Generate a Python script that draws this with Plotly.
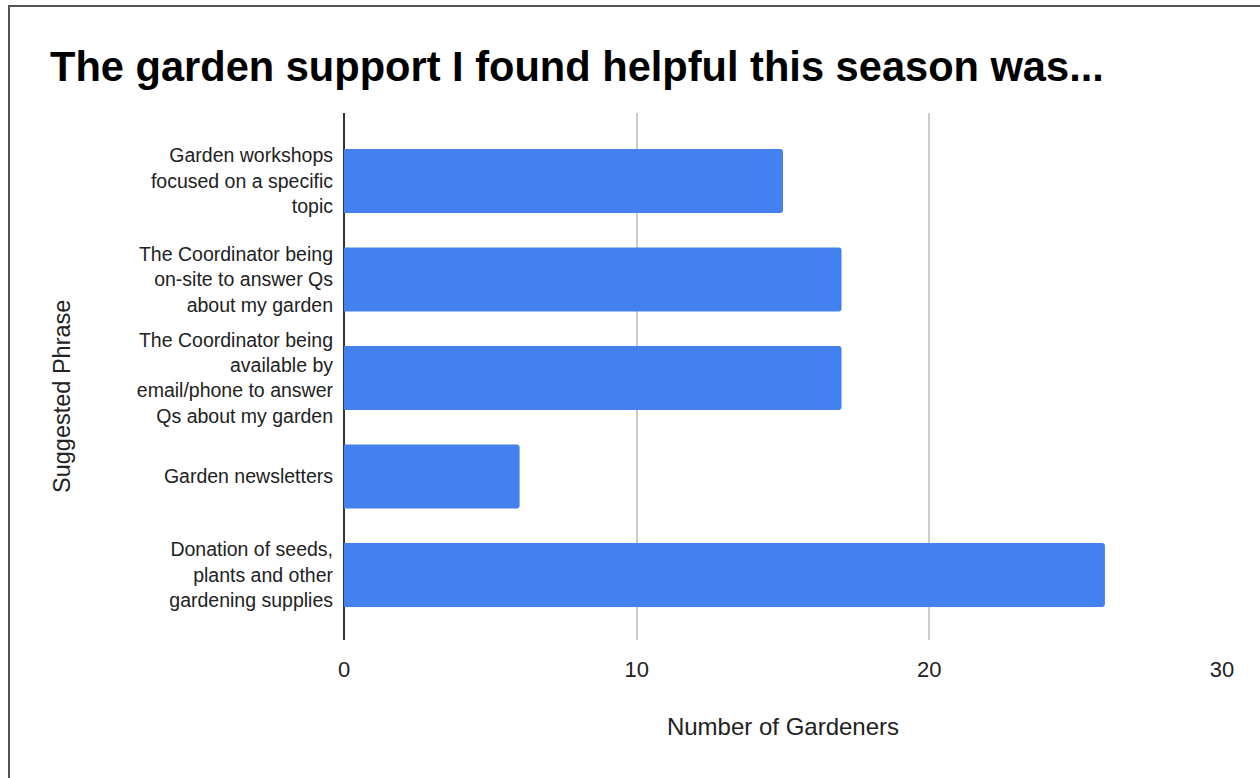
import plotly.graph_objects as go

categories = [
    "Garden workshops<br>focused on a specific<br>topic",
    "The Coordinator being<br>on-site to answer Qs<br>about my garden",
    "The Coordinator being<br>available by<br>email/phone to answer<br>Qs about my garden",
    "Garden newsletters",
    "Donation of seeds,<br>plants and other<br>gardening supplies",
]
values = [15, 17, 17, 6, 26]
x_ticks = [0, 10, 20, 30]

FONT = "Arial, 'Liberation Sans', sans-serif"

fig = go.Figure(
    go.Bar(
        x=values,
        y=list(range(len(categories))),
        orientation="h",
        marker=dict(color="#4382ee", line=dict(width=0)),
        width=0.65,
    )
)

W, H = 1260, 778
L, R, T, B = 344, 38, 113, 138
pw, ph = W - L - R, H - T - B

fig.update_layout(
    width=W,
    height=H,
    margin=dict(l=L, r=R, t=T, b=B),
    paper_bgcolor="white",
    plot_bgcolor="white",
    barcornerradius=3,
    showlegend=False,
    title=dict(
        text="<b>The garden support I found helpful this season was...</b>",
        x=50 / W,
        xanchor="left",
        y=1 - 66 / H,
        yanchor="middle",
        font=dict(family=FONT, size=41.6, color="#000000"),
    ),
    font=dict(family=FONT, color="#222222"),
    xaxis=dict(
        range=[0, 30],
        tickvals=x_ticks,
        ticktext=[str(v) for v in x_ticks],
        showgrid=True,
        gridcolor="#cccccc",
        gridwidth=1.5,
        zeroline=True,
        zerolinecolor="#333333",
        zerolinewidth=1.5,
        showline=False,
        ticks="",
        ticklabelstandoff=14,
        tickfont=dict(size=22, color="#222222"),
        title=dict(text="Number of Gardeners", font=dict(size=24, color="#222222"), standoff=37),
        fixedrange=True,
    ),
    yaxis=dict(
        range=[4.66, -0.69],
        tickvals=list(range(len(categories))),
        ticktext=categories,
        showgrid=False,
        zeroline=False,
        showline=False,
        ticks="",
        ticklabelstandoff=10,
        tickfont=dict(size=19.5, color="#222222"),
        fixedrange=True,
    ),
    annotations=[
        dict(
            text="Suggested Phrase",
            xref="paper",
            yref="paper",
            x=(62 - L) / pw,
            y=1 - (397 - T) / ph,
            xanchor="center",
            yanchor="middle",
            textangle=-90,
            showarrow=False,
            font=dict(family=FONT, size=23.5, color="#222222"),
        )
    ],
    shapes=[
        dict(
            type="rect",
            xref="paper",
            yref="paper",
            x0=(9 - L) / pw,
            x1=(W + 20 - L) / pw,
            y0=-(H + 20 - T - ph) / ph,
            y1=1 + (T - 6) / ph,
            line=dict(color="#555555", width=2),
            fillcolor="rgba(0,0,0,0)",
            layer="above",
        )
    ],
)

fig.write_html(
    "out.html",
    config={"displayModeBar": False},
    post_script="document.body.style.margin='0';document.body.style.overflow='hidden';",
)
